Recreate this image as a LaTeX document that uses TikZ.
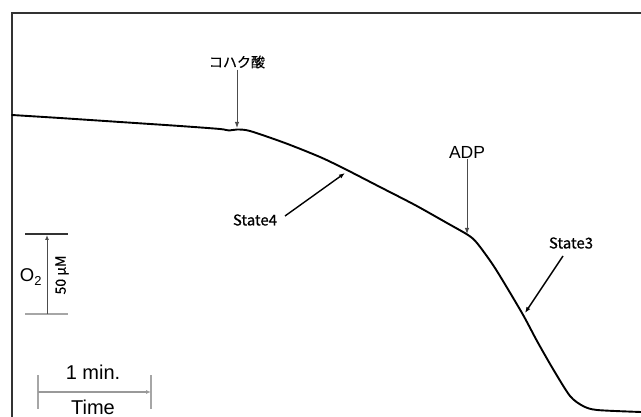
\documentclass[tikz,border=0pt]{standalone}
\usepackage{fontspec}
\setmainfont{Liberation Sans}
\newfontfamily\jpfont[FakeBold=0.5]{Noto Sans CJK JP}
\usetikzlibrary{arrows.meta}
\begin{document}
\begin{tikzpicture}[x=1pt,y=-1pt,
  lbl/.style={inner sep=1pt, font=\fontsize{17.5}{18}\selectfont},
  biglbl/.style={inner sep=1pt, font=\fontsize{20}{20}\selectfont},
  jlbl/.style={inner sep=1pt, font=\jpfont\fontsize{14}{14}\selectfont},
  slbl/.style={inner sep=1pt, font=\jpfont\fontsize{15}{15}\selectfont},
  pointer/.style={draw=black!70, line width=0.9pt, -{Latex[length=6pt,width=4.5pt]}},
  statearrow/.style={draw=black, line width=1.4pt, -{Latex[length=6pt,width=4.5pt]}},
  trace/.style={draw=black, line width=1.9pt, line join=round, line cap=round},
  frameline/.style={draw=black!80, line width=1.5pt},
  graytick/.style={draw=black!35, line width=1.3pt},
  darktick/.style={draw=black!80, line width=1.1pt},
  scalearrow/.style={draw=black!70, line width=1pt, -{Latex[length=5pt,width=4pt]}}]
\useasboundingbox (0,0) rectangle (641,417);
% frame
\draw[frameline] (641,13) -- (12,13) -- (12,417);
% trace
\draw[trace] plot[smooth, tension=0.45] coordinates {
 (12,115) (60,118) (120,122) (180,126) (220,129) (229,130.5) (237,129.5) (250,131)
 (285,143) (320,157) (345,169) (380,187) (415,205) (447,223) (468,235) (477,243)
 (495,268) (522,313) (537,341) (553,369) (570,396) (583,406) (597,410) (641,412)};
% succinate
\node[jlbl] (succ) at (237,62) {コハク酸};
\coordinate (succtip) at (237,128);
\draw[pointer] (succ) -- (succtip);
% ADP
\node[lbl] (adp) at (467,152) {ADP};
\coordinate (adptip) at (467,234);
\draw[pointer] (adp) -- (adptip);
% State4
\node[slbl] (s4) at (255,220) {State4};
\coordinate (s4tail) at (285,216);
\coordinate (s4tip) at (345,173);
\draw[statearrow] (s4tail) -- (s4tip);
% State3
\node[slbl] (s3) at (571,243) {State3};
\coordinate (s3tail) at (563,256);
\coordinate (s3tip) at (525,313);
\draw[statearrow] (s3tail) -- (s3tip);
% O2 scale
\coordinate (o2ta) at (25,234); \coordinate (o2tb) at (68,234);
\coordinate (o2ba) at (25,314); \coordinate (o2bb) at (68,314);
\coordinate (o2top) at (47,235); \coordinate (o2bot) at (47,314);
\draw[darktick] (o2ta) -- (o2tb);
\draw[graytick] (o2ba) -- (o2bb);
\draw[scalearrow] (o2bot) -- (o2top);
\node[lbl, font=\fontsize{18.5}{18}\selectfont] (o2) at (31,277) {O\textsubscript{2}};
\node[jlbl, rotate=90] (conc) at (62,275) {50 μM};
% time scale
\coordinate (tla) at (38,375); \coordinate (tlb) at (38,409);
\coordinate (tra) at (151,375); \coordinate (trb) at (151,409);
\coordinate (tstart) at (38,392); \coordinate (tend) at (151,392);
\draw[graytick] (tla) -- (tlb);
\draw[graytick] (tra) -- (trb);
\draw[graytick, -{Latex[length=5pt,width=4pt]}, draw=black!40] (tstart) -- (tend);
\node[biglbl] (min) at (93,372) {1 min.};
\node[biglbl] (time) at (93,407) {Time};
\end{tikzpicture}
\end{document}
